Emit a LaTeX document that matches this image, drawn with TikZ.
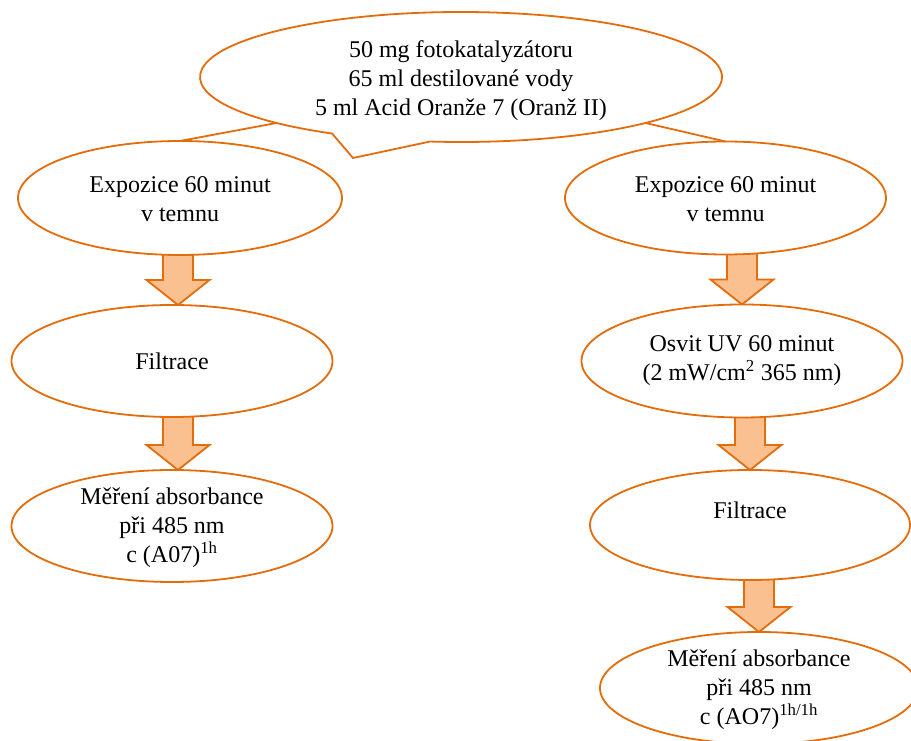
\documentclass[tikz,border=0pt]{standalone}
\usepackage{fontspec}
\setmainfont{Liberation Serif}
\usetikzlibrary{calc,backgrounds,shapes.geometric}
\definecolor{ored}{RGB}{228,108,10}
\definecolor{ofill}{RGB}{250,192,144}
\tikzset{
  oline/.style={draw=ored, line width=1.8pt},
  ell/.style={ellipse, oline, fill=white, inner sep=0pt, outer sep=0pt},
  txt/.style={font=\fontsize{24}{29}\selectfont, align=center, inner sep=0pt, text=black},
  barrowstyle/.style={draw=ored, fill=ofill, line width=1.8pt, line join=miter}
}
\newcommand\blockarrow[3]{%
  \begin{scope}[on background layer]
    \draw[barrowstyle] let \p1=(#1.south), \p2=(#2.north) in
      (\x2+#3-15pt,\y1+6pt) -- (\x2+#3-15pt,\y2+25pt) -- (\x2+#3-31.5pt,\y2+25pt)
      -- (\x2+#3,\y2) -- (\x2+#3+31.5pt,\y2+25pt) -- (\x2+#3+15pt,\y2+25pt)
      -- (\x2+#3+15pt,\y1+6pt) -- cycle;
  \end{scope}}
\begin{document}
\begin{tikzpicture}[x=1pt,y=1pt]
\useasboundingbox (0,0) rectangle (911,740);
% top callout
\node[ell, draw=none, minimum width=522pt, minimum height=130pt,
      label={[txt, yshift=-4pt]center:{50 mg fotokatalyzátoru\\65 ml destilované vody\\5 ml Acid Oranže 7 (Oranž II)}}]
      (top) at (461,663) {};
\coordinate (tip) at (353,582);
\draw[oline, line join=miter] ([shift={(263.2:261pt and 65pt)}]top.center)
  arc[start angle=263.2, end angle=600.4, x radius=261pt, y radius=65pt] -- (tip) -- cycle;
% left column
\node[ell, minimum width=324pt, minimum height=114pt,
      label={[txt, yshift=-1pt]center:{Expozice 60 minut\\v temnu}}] (LE) at (180,542) {};
\node[ell, minimum width=321pt, minimum height=112pt,
      label={[txt]center:{Filtrace}}] (LF) at (172,379) {};
\node[ell, minimum width=321pt, minimum height=112pt,
      label={[txt, yshift=-2pt]center:{Měření absorbance\\při 485 nm\\c (A07)\textsuperscript{1h}}}] (LM) at (172,214) {};
% right column
\node[ell, minimum width=321pt, minimum height=113pt,
      label={[txt, yshift=-1pt]center:{Expozice 60 minut\\v temnu}}] (RE) at (725.5,542) {};
\node[ell, minimum width=321pt, minimum height=113pt,
      label={[txt]center:{Osvit UV 60 minut\\(2 mW/cm\textsuperscript{2} 365 nm)}}] (RO) at (742,379) {};
\node[ell, minimum width=320pt, minimum height=110pt,
      label={[txt]center:{Filtrace\\\mbox{}}}] (RF) at (750,215) {};
\node[ell, minimum width=318pt, minimum height=112pt,
      label={[txt, yshift=-2pt]center:{Měření absorbance\\při 485 nm\\c (AO7)\textsuperscript{1h/1h}}}] (RM) at (759,52) {};
% connectors from the callout
\draw[oline] (top.194) -- (LE.north);
\draw[oline] (top.346) -- (RE.north);
% block arrows
\blockarrow{LE}{LF}{6pt}
\blockarrow{LF}{LM}{6pt}
\blockarrow{RE}{RO}{0pt}
\blockarrow{RO}{RF}{0pt}
\blockarrow{RF}{RM}{0pt}
\end{tikzpicture}
\end{document}
